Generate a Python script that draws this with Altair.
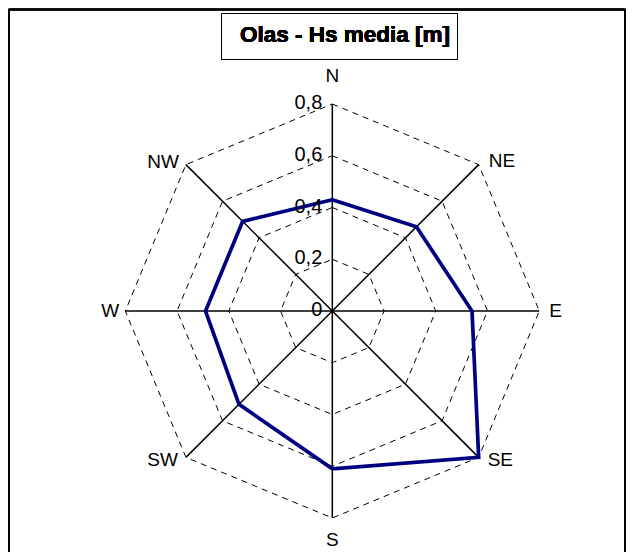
import altair as alt
import pandas as pd

# ---- data ----
directions = ["N", "NE", "E", "SE", "S", "SW", "W", "NW"]
hs_media = [0.43, 0.46, 0.54, 0.80, 0.61, 0.51, 0.49, 0.49]
ring_levels = [0.2, 0.4, 0.6, 0.8]
tick_values = [0.0, 0.2, 0.4, 0.6, 0.8]
tick_labels = ["0", "0,2", "0,4", "0,6", "0,8"]
title_text = "Olas - Hs media [m]"

# ---- layout ----
R_MAX = 0.8
W, H = 618, 544
CX, CY = 324.3, 303.0          # centre of the rose in plot pixels
PX = 207 / 0.8                 # pixels per unit of Hs
FONT = "Liberation Sans, Arial, sans-serif"

x_scale = alt.Scale(domain=[-CX / PX, (W - CX) / PX], nice=False, zero=False)
y_scale = alt.Scale(domain=[-(H - CY) / PX, CY / PX], nice=False, zero=False)

X = lambda f: alt.X(f, type="quantitative", scale=x_scale, axis=None)
Y = lambda f: alt.Y(f, type="quantitative", scale=y_scale, axis=None)

ANG = "datum.idx * PI / 4"

# dashed rings
ring_df = pd.DataFrame(
    [{"level": lv, "idx": k} for lv in ring_levels for k in range(len(directions) + 1)]
)
rings = (
    alt.Chart(ring_df)
    .transform_calculate(px=f"datum.level * sin({ANG})", py=f"datum.level * cos({ANG})")
    .mark_line(color="black", strokeWidth=1, strokeDash=[6, 5])
    .encode(x=X("px"), y=Y("py"), detail="level:N", order="idx:Q")
)

# spokes
spoke_df = pd.DataFrame({"dir": directions, "idx": list(range(len(directions)))})
spokes = (
    alt.Chart(spoke_df)
    .transform_calculate(
        px=f"{R_MAX} * sin({ANG})", py=f"{R_MAX} * cos({ANG})", zx="0", zy="0"
    )
    .mark_rule(color="black", strokeWidth=1.5)
    .encode(x=X("zx"), y=Y("zy"), x2="px:Q", y2="py:Q")
)

# data polygon (closed)
line_df = pd.DataFrame(
    {
        "dir": directions + [directions[0]],
        "idx": list(range(len(directions) + 1)),
        "value": hs_media + [hs_media[0]],
    }
)
series = (
    alt.Chart(line_df)
    .transform_calculate(px=f"datum.value * sin({ANG})", py=f"datum.value * cos({ANG})")
    .mark_line(color="#000080", strokeWidth=3.7, strokeJoin="miter")
    .encode(x=X("px"), y=Y("py"), order="idx:Q")
)

# radial tick labels
tick_df = pd.DataFrame({"value": tick_values, "label": tick_labels})
ticks = (
    alt.Chart(tick_df)
    .transform_calculate(zx="0")
    .mark_text(align="right", baseline="alphabetic", dx=-10, dy=5, fontSize=20, font=FONT, color="black")
    .encode(x=X("zx"), y=Y("value"), text="label:N")
)

# direction labels: per-direction pixel offsets and alignment (layout)
label_layout = {
    "N": ("center", 0, -22),
    "NE": ("left", 10, 2),
    "E": ("left", 10, 6),
    "SE": ("left", 9, 9),
    "S": ("center", 0, 28),
    "SW": ("right", -8, 9),
    "W": ("right", -6, 6),
    "NW": ("right", -7, 3),
}
lab_rows = []
for i, d in enumerate(directions):
    a, dx, dy = label_layout[d]
    lab_rows.append({"dir": d, "idx": i, "align": a, "ox": dx / PX, "oy": -dy / PX})
lab_df = pd.DataFrame(lab_rows)
label_layers = []
for a in ["left", "center", "right"]:
    label_layers.append(
        alt.Chart(lab_df[lab_df["align"] == a])
        .transform_calculate(
            px=f"{R_MAX} * sin({ANG}) + datum.ox", py=f"{R_MAX} * cos({ANG}) + datum.oy"
        )
        .mark_text(align=a, baseline="alphabetic", fontSize=19, font=FONT, color="black")
        .encode(x=X("px"), y=Y("py"), text="dir:N")
    )

# frame (left, top, right) and title box
frame_l = alt.Chart(spoke_df).mark_rule(color="black", strokeWidth=1.5).encode(
    x=alt.value(0.75), y=alt.value(1.5), y2=alt.value(H)
)
frame_t = alt.Chart(spoke_df).mark_rule(color="black", strokeWidth=1.5).encode(
    x=alt.value(0.75), x2=alt.value(W - 0.75), y=alt.value(1.5)
)
frame_r = alt.Chart(spoke_df).mark_rule(color="black", strokeWidth=1.5).encode(
    x=alt.value(W - 0.75), y=alt.value(1.5), y2=alt.value(H)
)
title_box = alt.Chart(spoke_df).mark_rect(fill="white", stroke="black", strokeWidth=1).encode(
    x=alt.value(213.5), x2=alt.value(449.5), y=alt.value(5.5), y2=alt.value(51.5)
)
title = alt.Chart(spoke_df).mark_text(
    text=title_text, align="center", baseline="alphabetic", fontSize=22.5, fontWeight="bold",
    font=FONT, color="black"
).encode(x=alt.value(337), y=alt.value(34))

chart = (
    alt.layer(rings, spokes, series, ticks, *label_layers, frame_l, frame_t, frame_r, title_box, title)
    .properties(width=W, height=H, padding=0, autosize=alt.AutoSizeParams(type="none"), background="white")
    .configure_view(stroke=None)
)

chart.save("out.html", embed_options={"renderer": "svg", "actions": False})
